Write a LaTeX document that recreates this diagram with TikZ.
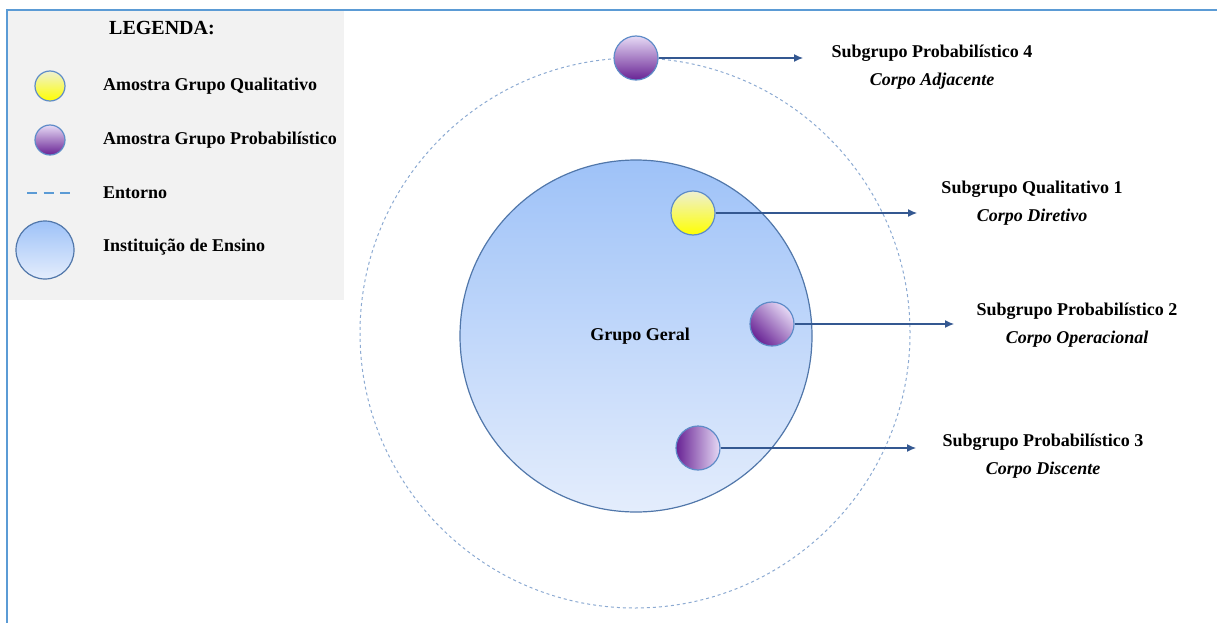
\documentclass[tikz,border=0pt]{standalone}
\usepackage{fontspec}
\setmainfont{Liberation Serif}
\usetikzlibrary{arrows.meta}
\definecolor{framebl}{RGB}{91,155,213}
\definecolor{legbg}{RGB}{242,242,242}
\definecolor{arrowbl}{RGB}{52,88,145}
\definecolor{rimbl}{RGB}{95,140,200}
\definecolor{orbitbl}{RGB}{140,170,210}
\definecolor{instTop}{RGB}{158,194,248}
\definecolor{instBot}{RGB}{228,237,252}
\definecolor{purpTop}{RGB}{230,218,245}
\definecolor{purpBot}{RGB}{104,34,148}
\definecolor{yelTop}{RGB}{238,240,210}
\definecolor{yelBot}{RGB}{255,255,0}
\tikzset{
  txt/.style={font=\fontsize{18}{28}\selectfont\bfseries, inner sep=0pt},
  sublabel/.style={txt, align=center},
  ball/.style={circle, draw=rimbl, line width=1.2pt, minimum size=44pt, inner sep=0pt},
  yellowball/.style={ball, top color=yelTop, bottom color=yelBot},
  purpleball/.style={ball, top color=purpTop, bottom color=purpBot},
  institution/.style={circle, draw=rimbl!85!black, line width=1.2pt, top color=instTop, bottom color=instBot, inner sep=0pt},
  link/.style={draw=arrowbl, line width=1.2pt, -{Latex[length=9pt,width=8pt]}},
  orbit/.style={draw=orbitbl, line width=1pt, dash pattern=on 3pt off 3pt}
}
\begin{document}
\begin{tikzpicture}[x=1pt,y=-1pt]
\useasboundingbox (0,0) rectangle (1217,623);
% page frame (top and left rules)
\draw[framebl, line width=2pt] (7,623) -- (7,10) -- (1217,10);
% legend panel
\fill[legbg] (8,11) rectangle (344,300);
\node[txt, font=\fontsize{20}{24}\selectfont\bfseries] (legtitle) at (162,28) {LEGENDA:};
\node[yellowball, minimum size=30pt] (legq) at (50,86) {};
\node[txt, anchor=west] (legqt) at (103,86) {Amostra Grupo Qualitativo};
\node[purpleball, minimum size=30pt] (legp) at (50,140) {};
\node[txt, anchor=west] (legpt) at (103,140) {Amostra Grupo Probabilístico};
\coordinate (dashA) at (27,193);
\coordinate (dashB) at (70,193);
\draw[framebl, line width=2pt, dash pattern=on 10pt off 6.5pt] (dashA) -- (dashB);
\node[txt, anchor=west] (legdt) at (103,193) {Entorno};
\node[institution, minimum size=58pt] (legi) at (45,250) {};
\node[txt, anchor=west] (legit) at (103,247) {Instituição de Ensino};
% surroundings and institution
\node[circle, orbit, minimum size=550pt, inner sep=0pt] (env) at (635,333) {};
\node[institution, minimum size=352pt] (inst) at (636,336) {};
\node[txt] (geral) at (640,336) {Grupo Geral};
% samples
\node[purpleball] (p4) at (636,58) {};
\node[yellowball] (q1) at (693,213) {};
\node[purpleball, shading angle=-45] (p2) at (772,324) {};
\node[purpleball, shading angle=-90] (p3) at (698,448) {};
% arrow ends
\coordinate (e4) at (803,58);
\coordinate (e1) at (917,213);
\coordinate (e2) at (954,324);
\coordinate (e3) at (916,448);
\draw[link] (p4.east) -- (e4);
\draw[link] (q1.east) -- (e1);
\draw[link] (p2.east) -- (e2);
\draw[link] (p3.east) -- (e3);
% subgroup labels
\node[sublabel] (l4) at (932,67) {Subgrupo Probabilístico 4\\\textit{Corpo Adjacente}};
\node[sublabel] (l1) at (1032,203) {Subgrupo Qualitativo 1\\\textit{Corpo Diretivo}};
\node[sublabel] (l2) at (1077,325) {Subgrupo Probabilístico 2\\\textit{Corpo Operacional}};
\node[sublabel] (l3) at (1043,456) {Subgrupo Probabilístico 3\\\textit{Corpo Discente}};
\end{tikzpicture}
\end{document}
